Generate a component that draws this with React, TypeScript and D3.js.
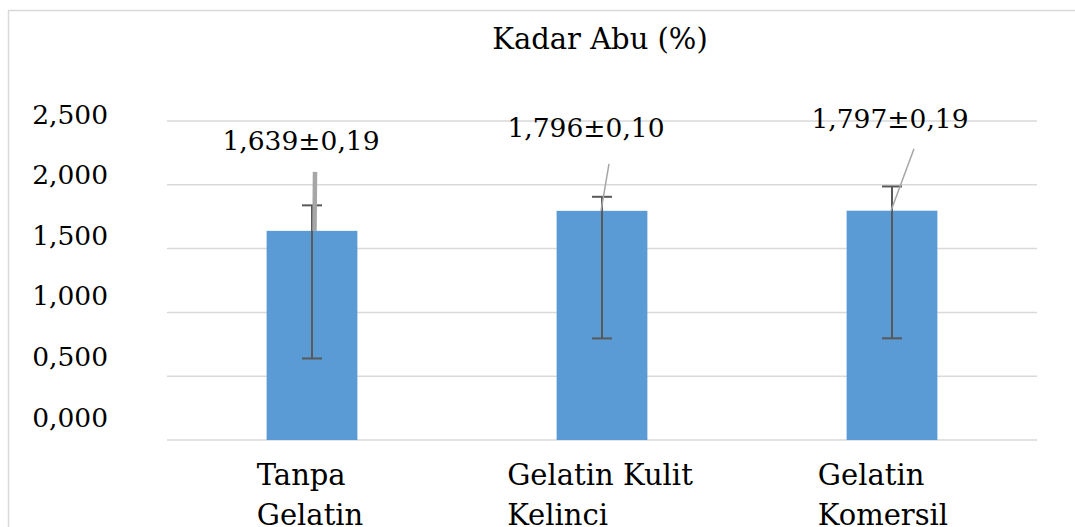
import React from "react";
import * as d3 from "d3";

const categories: string[][] = [["Tanpa", "Gelatin"], ["Gelatin Kulit", "Kelinci"], ["Gelatin", "Komersil"]];
const values: number[] = [1.639, 1.796, 1.797];
const errPlus: number[] = [0.2, 0.11, 0.19];
const errMinus: number[] = [1.0, 1.0, 1.0];
const dataLabels: string[] = ["1,639±0,19", "1,796±0,10", "1,797±0,19"];
const yTicks: number[] = [0, 0.5, 1.0, 1.5, 2.0, 2.5];
const title = "Kadar Abu (%)";

// label placement offsets (style): [dx, dy] relative to bar center / bar top
const labelOffsets: [number, number][] = [[-11, -81], [-16, -74], [-2, -83]];
// leader line start relative to label anchor, end relative to bar center
const leaderStart: [number, number][] = [[14, 22], [23, 27], [24, 21]];
const leaderEndDx: number[] = [2.5, -1, -1];
const leaderWidth: number[] = [4.5, 1.5, 1.5];
const catDx: number[] = [-2, -2, -9];

const W = 1075;
const H = 527;
const FONT = "'DejaVu Serif', serif";

function measure(text: string, font: string): number {
  const c = document.createElement("canvas");
  const ctx = c.getContext("2d")!;
  ctx.font = font;
  return ctx.measureText(text).width;
}

export default function App() {
  const x = d3.scaleBand<number>().domain(d3.range(categories.length)).range([167, 1037]).paddingInner(0.687).paddingOuter(0.3435);
  const y = d3.scaleLinear().domain([0, 2.5]).range([440, 121]);
  const yLab = d3.scaleLinear().domain([0, 2.5]).range([416.7, 113.7]);
  const fmt = (v: number) => d3.format(".3f")(v).replace(".", ",");
  const bw = x.bandwidth();
  const capHalf = 10;
  const catFont = "29px 'DejaVu Serif'";

  return (
    <svg width={W} height={H} style={{ position: "absolute", left: 0, top: 0, background: "#fff" }}>
      <rect x={8.5} y={10.5} width={1080} height={540} fill="#fff" stroke="#d9d9d9" strokeWidth={1.5} />
      <text x={600} y={49} textAnchor="middle" fontFamily={FONT} fontSize={29} fill="#000">{title}</text>
      {yTicks.map((t) => (
        <line key={"g" + t} x1={167} x2={1037} y1={y(t)} y2={y(t)} stroke="#d9d9d9" strokeWidth={1.5} />
      ))}
      {yTicks.map((t) => (
        <text key={"t" + t} x={108} y={yLab(t)} dy="0.37em" textAnchor="end" fontFamily={FONT} fontSize={26.5} fill="#000">{fmt(t)}</text>
      ))}
      {values.map((v, i) => (
        <rect key={"b" + i} x={x(i)!} y={y(v)} width={bw} height={y(0) - y(v)} fill="#5b9bd5" />
      ))}
      {values.map((v, i) => {
        const cx = x(i)! + bw / 2;
        return (
          <g key={"e" + i} stroke="#595959" strokeWidth={2}>
            <line x1={cx} x2={cx} y1={y(v + errPlus[i])} y2={y(v - errMinus[i])} />
            <line x1={cx - capHalf} x2={cx + capHalf} y1={y(v + errPlus[i])} y2={y(v + errPlus[i])} />
            <line x1={cx - capHalf} x2={cx + capHalf} y1={y(v - errMinus[i])} y2={y(v - errMinus[i])} />
          </g>
        );
      })}
      {values.map((v, i) => {
        const cx = x(i)! + bw / 2;
        const lx = cx + labelOffsets[i][0];
        const ly = y(v) + labelOffsets[i][1];
        return (
          <g key={"l" + i}>
            <line x1={lx + leaderStart[i][0]} y1={ly + leaderStart[i][1]} x2={cx + leaderEndDx[i]} y2={y(v)} stroke="#a6a6a6" strokeWidth={leaderWidth[i]} />
            <text x={lx} y={ly} textAnchor="middle" fontFamily={FONT} fontSize={26.5} fill="#000">{dataLabels[i]}</text>
          </g>
        );
      })}
      {categories.map((lines, i) => {
        const cx = x(i)! + bw / 2;
        const maxW = Math.max(...lines.map((l) => measure(l, catFont)));
        const left = cx - maxW / 2 + catDx[i];
        return (
          <text key={"c" + i} fontFamily={FONT} fontSize={29} fill="#000">
            {lines.map((l, j) => (
              <tspan key={j} x={left} y={485 + j * 40}>{l}</tspan>
            ))}
          </text>
        );
      })}
    </svg>
  );
}
